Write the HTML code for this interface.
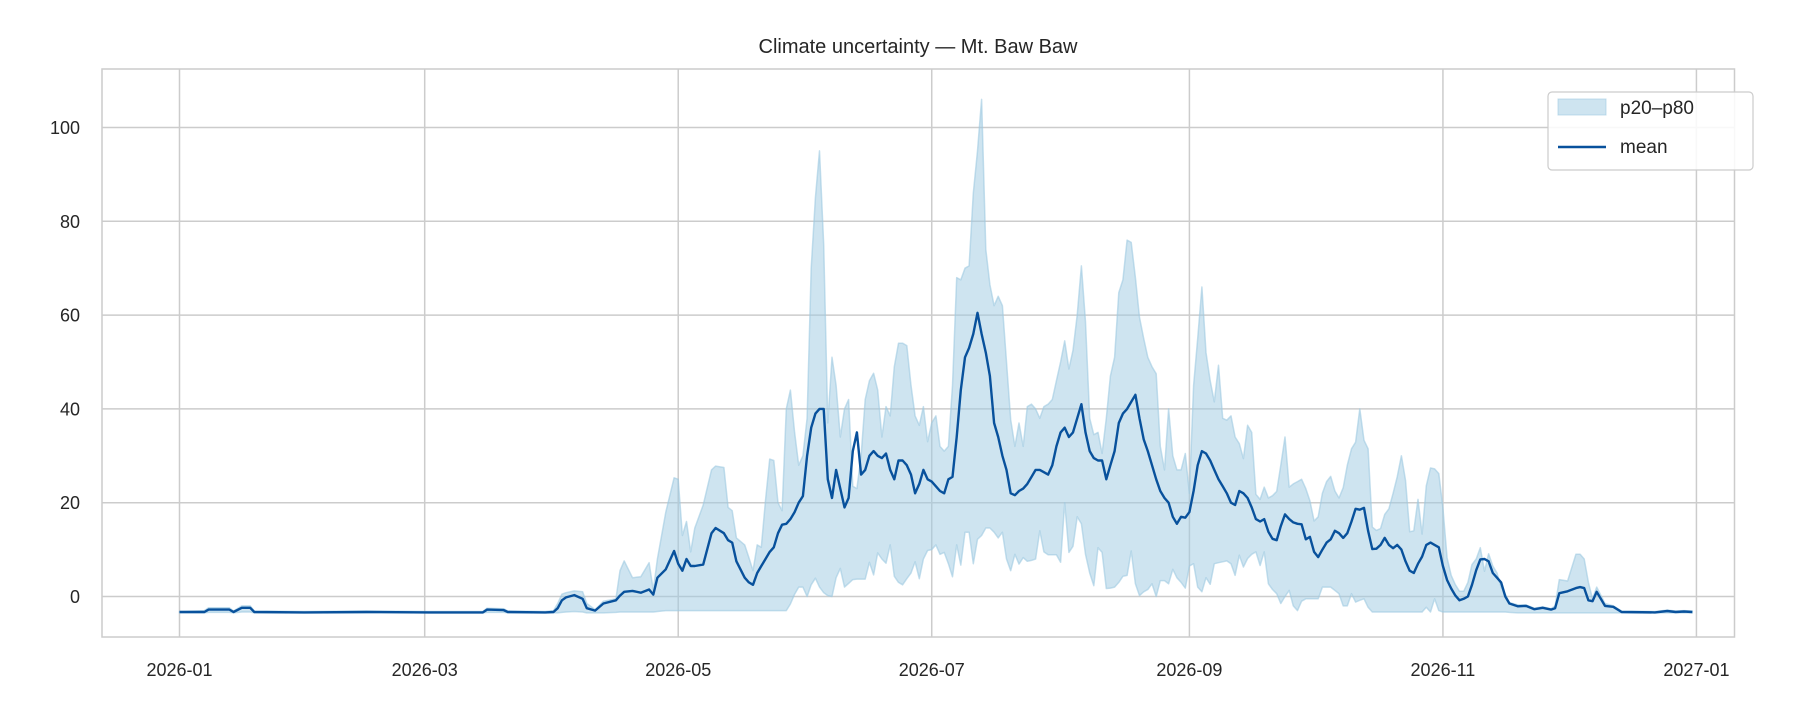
<!DOCTYPE html>
<html><head><meta charset="utf-8"><style>
body{margin:0;background:#fff;}
svg text{font-family:"Liberation Sans","DejaVu Sans",sans-serif;fill:#262626;}
</style></head><body>
<svg id="chart" width="1800" height="720" xmlns="http://www.w3.org/2000/svg">
<rect width="1800" height="720" fill="#fff"/>
<text x="918" y="53" font-size="20" text-anchor="middle">Climate uncertainty — Mt. Baw Baw</text>
<g id="grid"></g><g id="series"></g><g id="axes"></g>
<rect x="102" y="69" width="1632.5" height="568" fill="none" stroke="#cccccc" stroke-width="1.5"/>
<g>
<rect x="1548" y="92" width="205" height="78" rx="4" fill="#fff" fill-opacity="0.85" stroke="#cccccc" stroke-width="1.2"/>
<rect x="1558" y="99" width="48" height="16" fill="rgb(158,202,225)" fill-opacity="0.5" stroke="rgb(158,202,225)" stroke-opacity="0.6"/>
<text x="1620" y="114" font-size="19">p20–p80</text>
<line x1="1558" y1="147" x2="1606" y2="147" stroke="#08519c" stroke-width="2.4"/>
<text x="1620" y="153" font-size="19">mean</text>
</g>
</svg>
<script>
const days=[0,6,7,12,13,15,17,18,30,45,60,73,74,78,79,88,90,91,92,93,95,97,98,100,102,105,106,107,109,111,113,114,115,117,119,120,121,122,123,124,126,128,129,131,132,133,134,136,137,138,139,140,141,142,143,144,145,146,147,148,149,150,151,152,153,154,155,156,157,158,159,160,161,162,163,164,165,166,167,168,169,170,171,172,173,174,175,176,177,178,179,180,181,182,183,184,185,186,187,188,189,190,191,192,193,194,195,196,197,198,199,200,201,202,203,204,205,206,207,208,209,210,211,212,213,214,215,216,217,218,219,220,221,222,223,224,225,226,227,228,229,230,231,232,233,234,235,236,237,238,239,240,241,242,243,244,245,246,247,248,249,250,251,252,253,254,255,256,257,258,259,260,261,262,263,264,265,266,267,268,269,270,271,272,273,274,275,276,277,278,279,280,281,282,283,284,285,286,287,288,289,290,291,292,293,294,295,296,297,298,299,300,301,302,303,304,305,306,307,308,309,310,311,312,313,314,315,316,317,318,319,320,322,324,326,328,330,331,332,334,336,337,338,339,340,341,343,345,347,355,358,360,362,364];
const meanVals=[-3.3,-3.3,-2.8,-2.8,-3.3,-2.4,-2.4,-3.3,-3.4,-3.3,-3.4,-3.4,-2.8,-2.9,-3.3,-3.4,-3.3,-2.5,-0.8,-0.2,0.3,-0.5,-2.5,-3.0,-1.5,-0.8,0.2,1.0,1.2,0.8,1.5,0.4,4.0,5.8,9.7,7.0,5.5,8.0,6.5,6.5,6.8,13.5,14.6,13.5,12,11.5,7.5,4,3,2.5,5,6.5,8,9.5,10.5,13.5,15.3,15.5,16.5,18,20,21.4,30,36,39,40,40,25,21,27,23,19,21,31,35,26,27,30,31,30,29.5,30.5,27,25,29,29,28,26,22,24,27,25,24.5,23.5,22.5,22,25,25.5,34,44,51,53,56,60.5,56,52,47,37,34,30,27,22,21.6,22.5,23,24,25.5,27,27,26.5,26,28,32,35,36,34,35,38,41,35,31,29.5,29,29,25,28,31,37,39,40,41.5,43,38,33.5,31,28,25,22.5,21,20,17,15.5,17,16.8,18,22.5,28,31,30.5,29,27,25,23.5,22,20,19.5,22.5,22,21,19,16.5,16,16.5,13.8,12.3,12,15,17.5,16.5,15.8,15.5,15.4,12.2,12.7,9.5,8.4,10,11.5,12.2,14,13.5,12.5,13.5,16,18.7,18.5,18.9,14,10.1,10.2,11,12.5,11,10.3,11,10,7.5,5.5,5,7,8.5,11,11.5,11,10.5,6.5,3.5,1.7,0.2,-0.8,-0.5,0,2.5,5.6,7.9,8,7.5,5,4,3,0,-1.5,-2.1,-2.0,-2.7,-2.4,-2.8,-2.5,0.7,1.1,1.8,2,1.8,-0.8,-1,1,-2,-2.2,-3.3,-3.4,-3.1,-3.3,-3.2,-3.3];
const p20Vals=[-3.5,-3.5,-3.4,-3.4,-3.5,-3.3,-3.3,-3.5,-3.5,-3.5,-3.5,-3.5,-3.4,-3.4,-3.5,-3.5,-3.5,-3.5,-3.4,-3.3,-3.2,-3.3,-3.5,-3.5,-3.5,-3.4,-3.3,-3.3,-3.3,-3.3,-3.3,-3.3,-3.2,-3.0,-3.0,-3.0,-3.0,-3.0,-3.0,-3.0,-3.0,-3.0,-3.0,-3.0,-3.0,-3.0,-3.0,-3.0,-3.0,-3.0,-3.0,-3.0,-3,-3,-3,-3,-3,-3,-1.6,0.5,2,2,0,2.5,3.9,2,0.8,0.2,0,4,6,2,2.8,3.6,3.7,3.7,3.7,7.3,4.6,9.3,8,7.1,11,4.3,3,2.5,3.8,5,7.4,3.8,8,9.8,10,11,9,9.4,7,4.2,11,6.7,13.7,13.7,7,12.2,13,14.6,14.6,13.7,12.5,13.7,8,5.5,9,6.9,8.3,7.5,7.7,8,14,9.5,8.9,8.9,8.9,7.3,20,9.4,10.7,17,15.5,9,5,2.3,10.4,9.4,1.7,1.8,2,3,4.3,4.5,9.7,2.7,0.2,1,1.5,2.7,0,3.4,3.4,2.7,5.8,4,3,1.8,6.5,7,2,1,4,2.6,7,7.2,7.4,7.6,7,4.5,8.8,6.3,8.1,9,9.5,6.6,9.5,2.7,1.5,0.6,-1.5,0,1.3,-2,-3,-1,-0.5,-0.5,-0.5,-0.5,2,2,2,1.3,0.6,-2,-2,0.6,-1.2,-0.8,-0.5,-2.3,-3.3,-3.3,-3.3,-3.3,-3.3,-3.3,-3.3,-3.3,-3.3,-3.3,-3.3,-3.3,-3.3,-2.3,-3.3,-0.5,-3,-3.3,-3.3,-3.3,-3.3,-3.3,-3.3,-3.3,-3.3,-3.3,-3.3,-3.3,-3.3,-3.3,-3.3,-3.3,-3.3,-3.4,-3.5,-3.5,-3.5,-3.5,-3.5,-3.5,-3.5,-3.5,-3.5,-3.5,-3.5,-3.5,-3.5,-3.5,-3.5,-3.5,-3.5,-3.5,-3.5,-3.5,-3.5,-3.5,-3.5];
const p80Vals=[-3.2,-3.0,-2.4,-2.4,-3.1,-2.0,-2.0,-3.1,-3.2,-3.1,-3.2,-3.2,-2.5,-2.6,-3.1,-3.2,-3.0,-1.5,0.5,0.8,1.2,1.0,-1.5,-2.8,-1.0,-0.5,5.5,7.6,4.0,4.2,7.2,1.3,8,18,25.3,25,13,16,9.5,14.6,19.5,27,27.8,27.5,19,18.3,12.5,11,8.3,5.5,11,10.5,20.5,29.3,29,20,18.3,40,44,35,28,30,38,70,85,95,75,37,51,45,34,40,42,23.5,23,30,42,46,47.6,44,34,40.5,38.5,49,54,54,53.5,45,38.5,36.5,40.5,33,37,38.5,32,31,32,45,68,67.5,70,70.5,86,95,106,74,66.5,62,64,62,50,37.7,32,37,32,40.5,41,40,38,40.5,41,42,46,50,54.5,48.5,52.5,60,70.5,58.5,38,34.5,35,30.5,38,47,51,64.8,67.5,76,75.5,68,59.5,55,51,49,47.5,32,27,40,30,27,27,30.5,22,45,55,66,52,46,41.5,49.3,38,37.6,38.5,34,32.6,29.4,36.5,35,21.8,20.7,23.3,21,21.5,22.4,28,34,23.3,24,24.5,25,23,20.4,16.1,17,22,24.5,25.6,22.5,21,23.2,28,31.5,32.9,40,33.3,31.5,14.8,14.1,14.5,17.5,18.7,22,25.5,30,24.8,13.8,14,20.7,13.3,23.6,27.4,27.2,26.2,18.9,8.2,4.5,2.5,1.1,1.1,3,6.8,8,10.4,5.4,9.1,6.5,5,2,0.5,-1.3,-1.8,-1.8,-2.5,-2.2,-2.6,-2.0,3.6,3.3,9,9,8,3,-0.5,2,-1.5,-2,-3.1,-3.2,-2.9,-3.1,-3.0,-3.1];
const tickDays=[0,59,120,181,243,304,365];
const tickLabels=["2026-01","2026-03","2026-05","2026-07","2026-09","2026-11","2027-01"];
const yTicks=[0,20,40,60,80,100];

const NS="http://www.w3.org/2000/svg";
const X0=179.5,DX=4.156,Y0=596.5,DY=4.69;
function xs(d){return X0+d*DX;}
function ys(v){return Y0-v*DY;}
function mk(tag,attrs,parent){const e=document.createElementNS(NS,tag);for(const k in attrs)e.setAttribute(k,attrs[k]);parent.appendChild(e);return e;}
const grid=document.getElementById('grid'),axes=document.getElementById('axes'),series=document.getElementById('series');
tickDays.forEach((d,i)=>{
  const l=mk('line',{x1:xs(d),x2:xs(d),y1:69,y2:637,stroke:'#cccccc','stroke-width':1.5},grid);
  
  
  const t=mk('text',{x:xs(d),y:676,'font-size':18,'text-anchor':'middle'},axes);
  t.textContent=tickLabels[i];
  
  
});
yTicks.forEach(v=>{
  const l=mk('line',{x1:102,x2:1734.5,y1:ys(v),y2:ys(v),stroke:'#cccccc','stroke-width':1.5},grid);
  
  
  const t=mk('text',{x:80,y:ys(v)+6.5,'font-size':18,'text-anchor':'end'},axes);
  t.textContent=String(v);
  
  
});
let up=days.map((d,i)=>xs(d).toFixed(1)+','+ys(p80Vals[i]).toFixed(1));
let lo=days.map((d,i)=>xs(d).toFixed(1)+','+ys(p20Vals[i]).toFixed(1)).reverse();
const band=mk('path',{d:'M'+up.join('L')+'L'+lo.join('L')+'Z',fill:'rgb(158,202,225)','fill-opacity':0.5,stroke:'rgb(158,202,225)','stroke-opacity':0.6,'stroke-width':1.5,'stroke-linejoin':'round'},series);


const ml=mk('path',{d:'M'+days.map((d,i)=>xs(d).toFixed(1)+','+ys(meanVals[i]).toFixed(1)).join('L'),fill:'none',stroke:'#08519c','stroke-width':2.4,'stroke-linejoin':'round'},series);


</script>
</body></html>
